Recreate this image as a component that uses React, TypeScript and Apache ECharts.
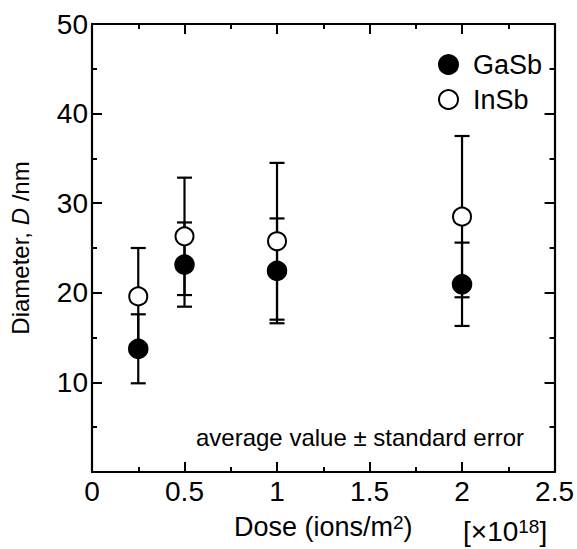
import React, { useEffect, useRef } from "react";
import * as echarts from "echarts";

const doses = [0.25, 0.5, 1, 2];
const gasbMean = [13.75, 23.15, 22.45, 20.95];
const gasbErr = [3.85, 4.7, 5.85, 4.65];
const insbMean = [19.6, 26.3, 25.75, 28.5];
const insbErr = [5.4, 6.55, 8.75, 9.0];
const xTicks = { min: 0, max: 2.5, interval: 0.5 };
const yTicks = { min: 0, max: 50, interval: 10 };

const FONT = "Liberation Sans";

export default function App() {
  const ref = useRef<HTMLDivElement>(null);
  useEffect(() => {
    if (!ref.current) return;
    const chart = echarts.init(ref.current, undefined, { renderer: "svg" });

    const errData = (mean: number[], err: number[]) =>
      doses.map((d, i) => [d, mean[i] - err[i], mean[i] + err[i]]);

    const renderErr = (params: any, api: any) => {
      const x = api.value(0);
      const lo = api.value(1);
      const hi = api.value(2);
      const pHi = api.coord([x, hi]);
      const pLo = api.coord([x, lo]);
      const hw = 7.5;
      const st = { stroke: "#000", lineWidth: 2.2 };
      return {
        type: "group",
        children: [
          { type: "line", shape: { x1: pHi[0], y1: pHi[1], x2: pLo[0], y2: pLo[1] }, style: st },
          { type: "line", shape: { x1: pHi[0] - hw, y1: pHi[1], x2: pHi[0] + hw, y2: pHi[1] }, style: st },
          { type: "line", shape: { x1: pLo[0] - hw, y1: pLo[1], x2: pLo[0] + hw, y2: pLo[1] }, style: st },
        ],
      };
    };

    const axisCommon = {
      axisLine: { show: true, onZero: false, lineStyle: { color: "#000", width: 2.2 } },
      axisTick: { show: true, inside: true, length: 10, lineStyle: { color: "#000", width: 2 } },
      minorTick: { show: true, splitNumber: 2, length: 5, lineStyle: { color: "#000", width: 2 } },
      splitLine: { show: false },
      minorSplitLine: { show: false },
    };

    const option: any = {
      animation: false,
      backgroundColor: "#fff",
      textStyle: { fontFamily: FONT, color: "#000" },
      grid: { left: 86, top: 24, width: 470, height: 448, containLabel: false },
      xAxis: [
        {
          type: "value",
          position: "bottom",
          ...xTicks,
          ...axisCommon,
          axisLabel: { fontSize: 28, color: "#000", fontFamily: FONT, margin: 5 },
          name: "Dose (ions/m{sup|2})",
          nameLocation: "middle",
          nameGap: 41,
          nameTextStyle: {
            fontSize: 27,
            color: "#000",
            fontFamily: FONT,
            rich: { sup: { fontSize: 19, verticalAlign: "top", fontFamily: FONT, color: "#000" } },
          },
        },
        {
          type: "value",
          position: "top",
          ...xTicks,
          ...axisCommon,
          axisLabel: { show: false },
        },
      ],
      yAxis: [
        {
          type: "value",
          position: "left",
          ...yTicks,
          ...axisCommon,
          axisLabel: {
            fontSize: 28,
            color: "#000",
            fontFamily: FONT,
            margin: 4,
            showMinLabel: false,
            formatter: (v: number) => (v === 0 ? "" : String(v)),
          },
          name: "Diameter, {i|D} /nm",
          nameLocation: "middle",
          nameGap: 60,
          nameRotate: 90,
          nameTextStyle: {
            fontSize: 24,
            color: "#000",
            fontFamily: FONT,
            rich: { i: { fontSize: 24, fontStyle: "italic", fontFamily: FONT, color: "#000" } },
          },
        },
        {
          type: "value",
          position: "right",
          ...yTicks,
          ...axisCommon,
          axisLabel: { show: false },
        },
      ],
      legend: {
        orient: "vertical",
        left: 433,
        top: 46,
        itemWidth: 19,
        itemHeight: 19,
        itemGap: 8,
        data: [
          { name: "GaSb", icon: "circle" },
          { name: "InSb", icon: "circle" },
        ],
        textStyle: { fontSize: 27, color: "#000", fontFamily: FONT, padding: [0, 0, 0, 10] },
      },
      graphic: [
        {
          type: "text",
          x: 360,
          y: 437,
          style: {
            text: "average value ± standard error",
            fontSize: 24,
            fontFamily: FONT,
            fill: "#000",
            align: "center",
            verticalAlign: "middle",
          },
        },
        {
          type: "text",
          x: 463,
          y: 531,
          style: {
            text: "[×10{sup|18}]",
            fontSize: 28,
            fontFamily: FONT,
            fill: "#000",
            align: "left",
            verticalAlign: "middle",
            rich: { sup: { fontSize: 19, verticalAlign: "top", fontFamily: FONT, fill: "#000" } },
          },
        },
      ],
      series: [
        {
          name: "GaSbErr",
          type: "custom",
          renderItem: renderErr,
          encode: { x: 0, y: [1, 2] },
          data: errData(gasbMean, gasbErr),
          z: 2,
        },
        {
          name: "InSbErr",
          type: "custom",
          renderItem: renderErr,
          encode: { x: 0, y: [1, 2] },
          data: errData(insbMean, insbErr),
          z: 2,
        },
        {
          name: "GaSb",
          type: "scatter",
          symbol: "circle",
          symbolSize: 19,
          itemStyle: { color: "#000", borderColor: "#000", borderWidth: 1.5, opacity: 1 },
          data: doses.map((d, i) => [d, gasbMean[i]]),
          z: 5,
        },
        {
          name: "InSb",
          type: "scatter",
          symbol: "circle",
          symbolSize: 18,
          itemStyle: { color: "#fff", borderColor: "#000", borderWidth: 2, opacity: 1 },
          data: doses.map((d, i) => [d, insbMean[i]]),
          z: 5,
        },
      ],
    };
    chart.setOption(option);
    return () => chart.dispose();
  }, []);
  return (
    <div
      ref={ref}
      style={{ position: "absolute", left: 0, top: 0, width: 577, height: 549 }}
    />
  );
}
